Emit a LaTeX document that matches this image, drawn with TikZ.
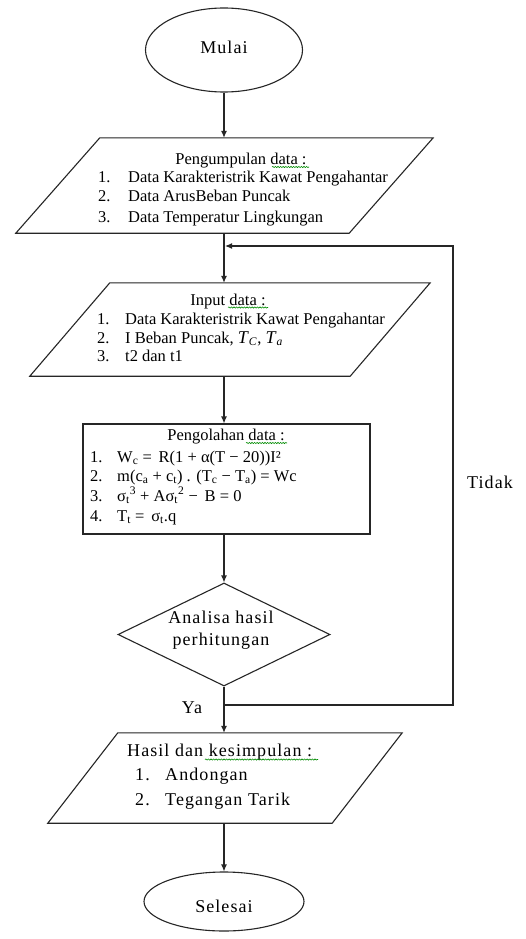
\documentclass[tikz,border=0pt]{standalone}
\usepackage{fontspec}
\setmainfont{Liberation Serif}
\newfontfamily\spacedfont[LetterSpace=6]{Liberation Serif}
\usetikzlibrary{shapes.geometric,arrows.meta,decorations.pathmorphing}

\tikzset{
  flow/.style={draw=black!85, line width=1.1pt},
  arr/.style={draw=black!85, line width=1.1pt, -{Latex[length=7pt,width=6pt]}},
  txt/.style={inner sep=0pt, font=\fontsize{16.5}{19}\selectfont},
  lbl/.style={inner sep=0pt, font=\spacedfont\fontsize{18}{21}\selectfont},
  blank/.style={draw=none, inner sep=0pt},
  squig/.style={draw=green!55!black, line width=0.6pt, decorate,
    decoration={snake, amplitude=0.6pt, segment length=2.6pt}},
}

\begin{document}
\begin{tikzpicture}[x=1pt, y=-1pt]
  \useasboundingbox[fill=white] (0,0) rectangle (526,939);
  \coordinate (axis) at (224,0);

  % start
  \node[ellipse, flow, minimum width=157pt, minimum height=84pt, inner sep=0pt] (mulai) at (224,50) {};
  \node[lbl, anchor=base] (mulaiT) at (224,54) {Mulai};

  % data collection (parallelogram)
  \node[blank, minimum width=417pt, minimum height=95pt] (p1) at (224.5,185.5) {};
  \draw[flow] ([xshift=84pt]p1.north west) -- (p1.north east)
    -- ([xshift=-84pt]p1.south east) -- (p1.south west) -- cycle;
  \node[txt, anchor=base] (p1h) at (241,164) {Pengumpulan data :};
  \node[txt, anchor=base west] (p1a) at (98,182) {\makebox[30pt][l]{1.}Data Karakteristrik Kawat Pengahantar};
  \node[txt, anchor=base west] (p1b) at (98,201) {\makebox[30pt][l]{2.}Data ArusBeban Puncak};
  \node[txt, anchor=base west] (p1c) at (98,222) {\makebox[30pt][l]{3.}Data Temperatur Lingkungan};

  % input (parallelogram)
  \node[blank, minimum width=400pt, minimum height=93pt] (p2) at (230,329.5) {};
  \draw[flow] ([xshift=80pt]p2.north west) -- (p2.north east)
    -- ([xshift=-80pt]p2.south east) -- (p2.south west) -- cycle;
  \node[txt, anchor=base] (p2h) at (228,305) {Input data :};
  \node[txt, anchor=base west] (p2a) at (97,324) {\makebox[28pt][l]{1.}Data Karakteristrik Kawat Pengahantar};
  \node[txt, anchor=base west] (p2b) at (97,343) {\makebox[28pt][l]{2.}I Beban Puncak, {\fontsize{18}{19}\selectfont\textit{T}}\textsubscript{\textit{C}}, {\fontsize{18}{19}\selectfont\textit{T}}\textsubscript{\textit{a}}};
  \node[txt, anchor=base west] (p2c) at (97,361) {\makebox[28pt][l]{3.}t2 dan t1};

  % processing (rectangle)
  \node[rectangle, flow, minimum width=287pt, minimum height=110pt, inner sep=0pt] (box) at (226.5,479) {};
  \node[txt, anchor=base] (boxh) at (226,440) {Pengolahan data :};
  \node[txt, anchor=base west] (boxa) at (90,462) {\makebox[27pt][l]{1.}W\textsubscript{c} = \,R(1 + α(T − 20))I²};
  \node[txt, anchor=base west] (boxb) at (90,481) {\makebox[27pt][l]{2.}m(c\textsubscript{a} + c\textsubscript{t}) . (T\textsubscript{c} − T\textsubscript{a}) = Wc};
  \node[txt, anchor=base west] (boxc) at (90,501) {\makebox[27pt][l]{3.}σ\textsubscript{t}\textsuperscript{3} + Aσ\textsubscript{t}\textsuperscript{2} − \,B = 0};
  \node[txt, anchor=base west] (boxd) at (90,521) {\makebox[27pt][l]{4.}T\textsubscript{t} = \,σ\textsubscript{t}.q};

  % decision
  \node[diamond, flow, minimum width=212pt, minimum height=103pt, inner sep=0pt] (dia) at (224,634.5) {};
  \node[lbl, anchor=base] (diaA) at (221,623) {Analisa hasil};
  \node[lbl, anchor=base] (diaB) at (221,645) {perhitungan};

  % results (parallelogram)
  \node[blank, minimum width=354pt, minimum height=90pt] (p3) at (225,778) {};
  \draw[flow] ([xshift=70pt]p3.north west) -- (p3.north east)
    -- ([xshift=-70pt]p3.south east) -- (p3.south west) -- cycle;
  \node[lbl, anchor=base west] (p3h) at (127,756) {Hasil dan kesimpulan :};
  \node[lbl, anchor=base west] (p3a) at (135,780) {\makebox[30pt][l]{1.}Andongan};
  \node[lbl, anchor=base west] (p3b) at (135,805) {\makebox[30pt][l]{2.}Tegangan Tarik};

  % end
  \node[ellipse, flow, minimum width=160pt, minimum height=59pt, inner sep=0pt] (selesai) at (224,901.5) {};
  \node[lbl, anchor=base] (selesaiT) at (224,912) {Selesai};

  % branch labels
  \node[lbl, anchor=base] (ya) at (192,713) {Ya};
  \node[lbl, anchor=base] (tidak) at (490,488) {Tidak};

  % spell-check marks under some words
  \draw[squig] (272,167) -- (309,167);
  \draw[squig] (228,307.5) -- (268,307.5);
  \draw[squig] (246,443) -- (287,443);
  \draw[squig] (205,759.5) -- (318,759.5);

  % connectors
  \draw[arr] (mulai.south) -- (mulai.south |- p1.north);
  \draw[arr] (p1.south -| axis) -- (p2.north -| axis);
  \draw[arr] (p2.south -| axis) -- (box.north -| axis);
  \draw[arr] (box.south -| axis) -- (dia.north);
  \draw[arr] (dia.south) -- (dia.south |- p3.north);
  \draw[arr] (p3.south -| axis) -- (selesai.north);

  % loop back when the analysis is not accepted
  \coordinate (j) at (224,705);
  \coordinate (loopR) at (453,475);
  \coordinate (k) at (225,246);
  \draw[arr] (j) -| (loopR) |- (k);
\end{tikzpicture}
\end{document}
